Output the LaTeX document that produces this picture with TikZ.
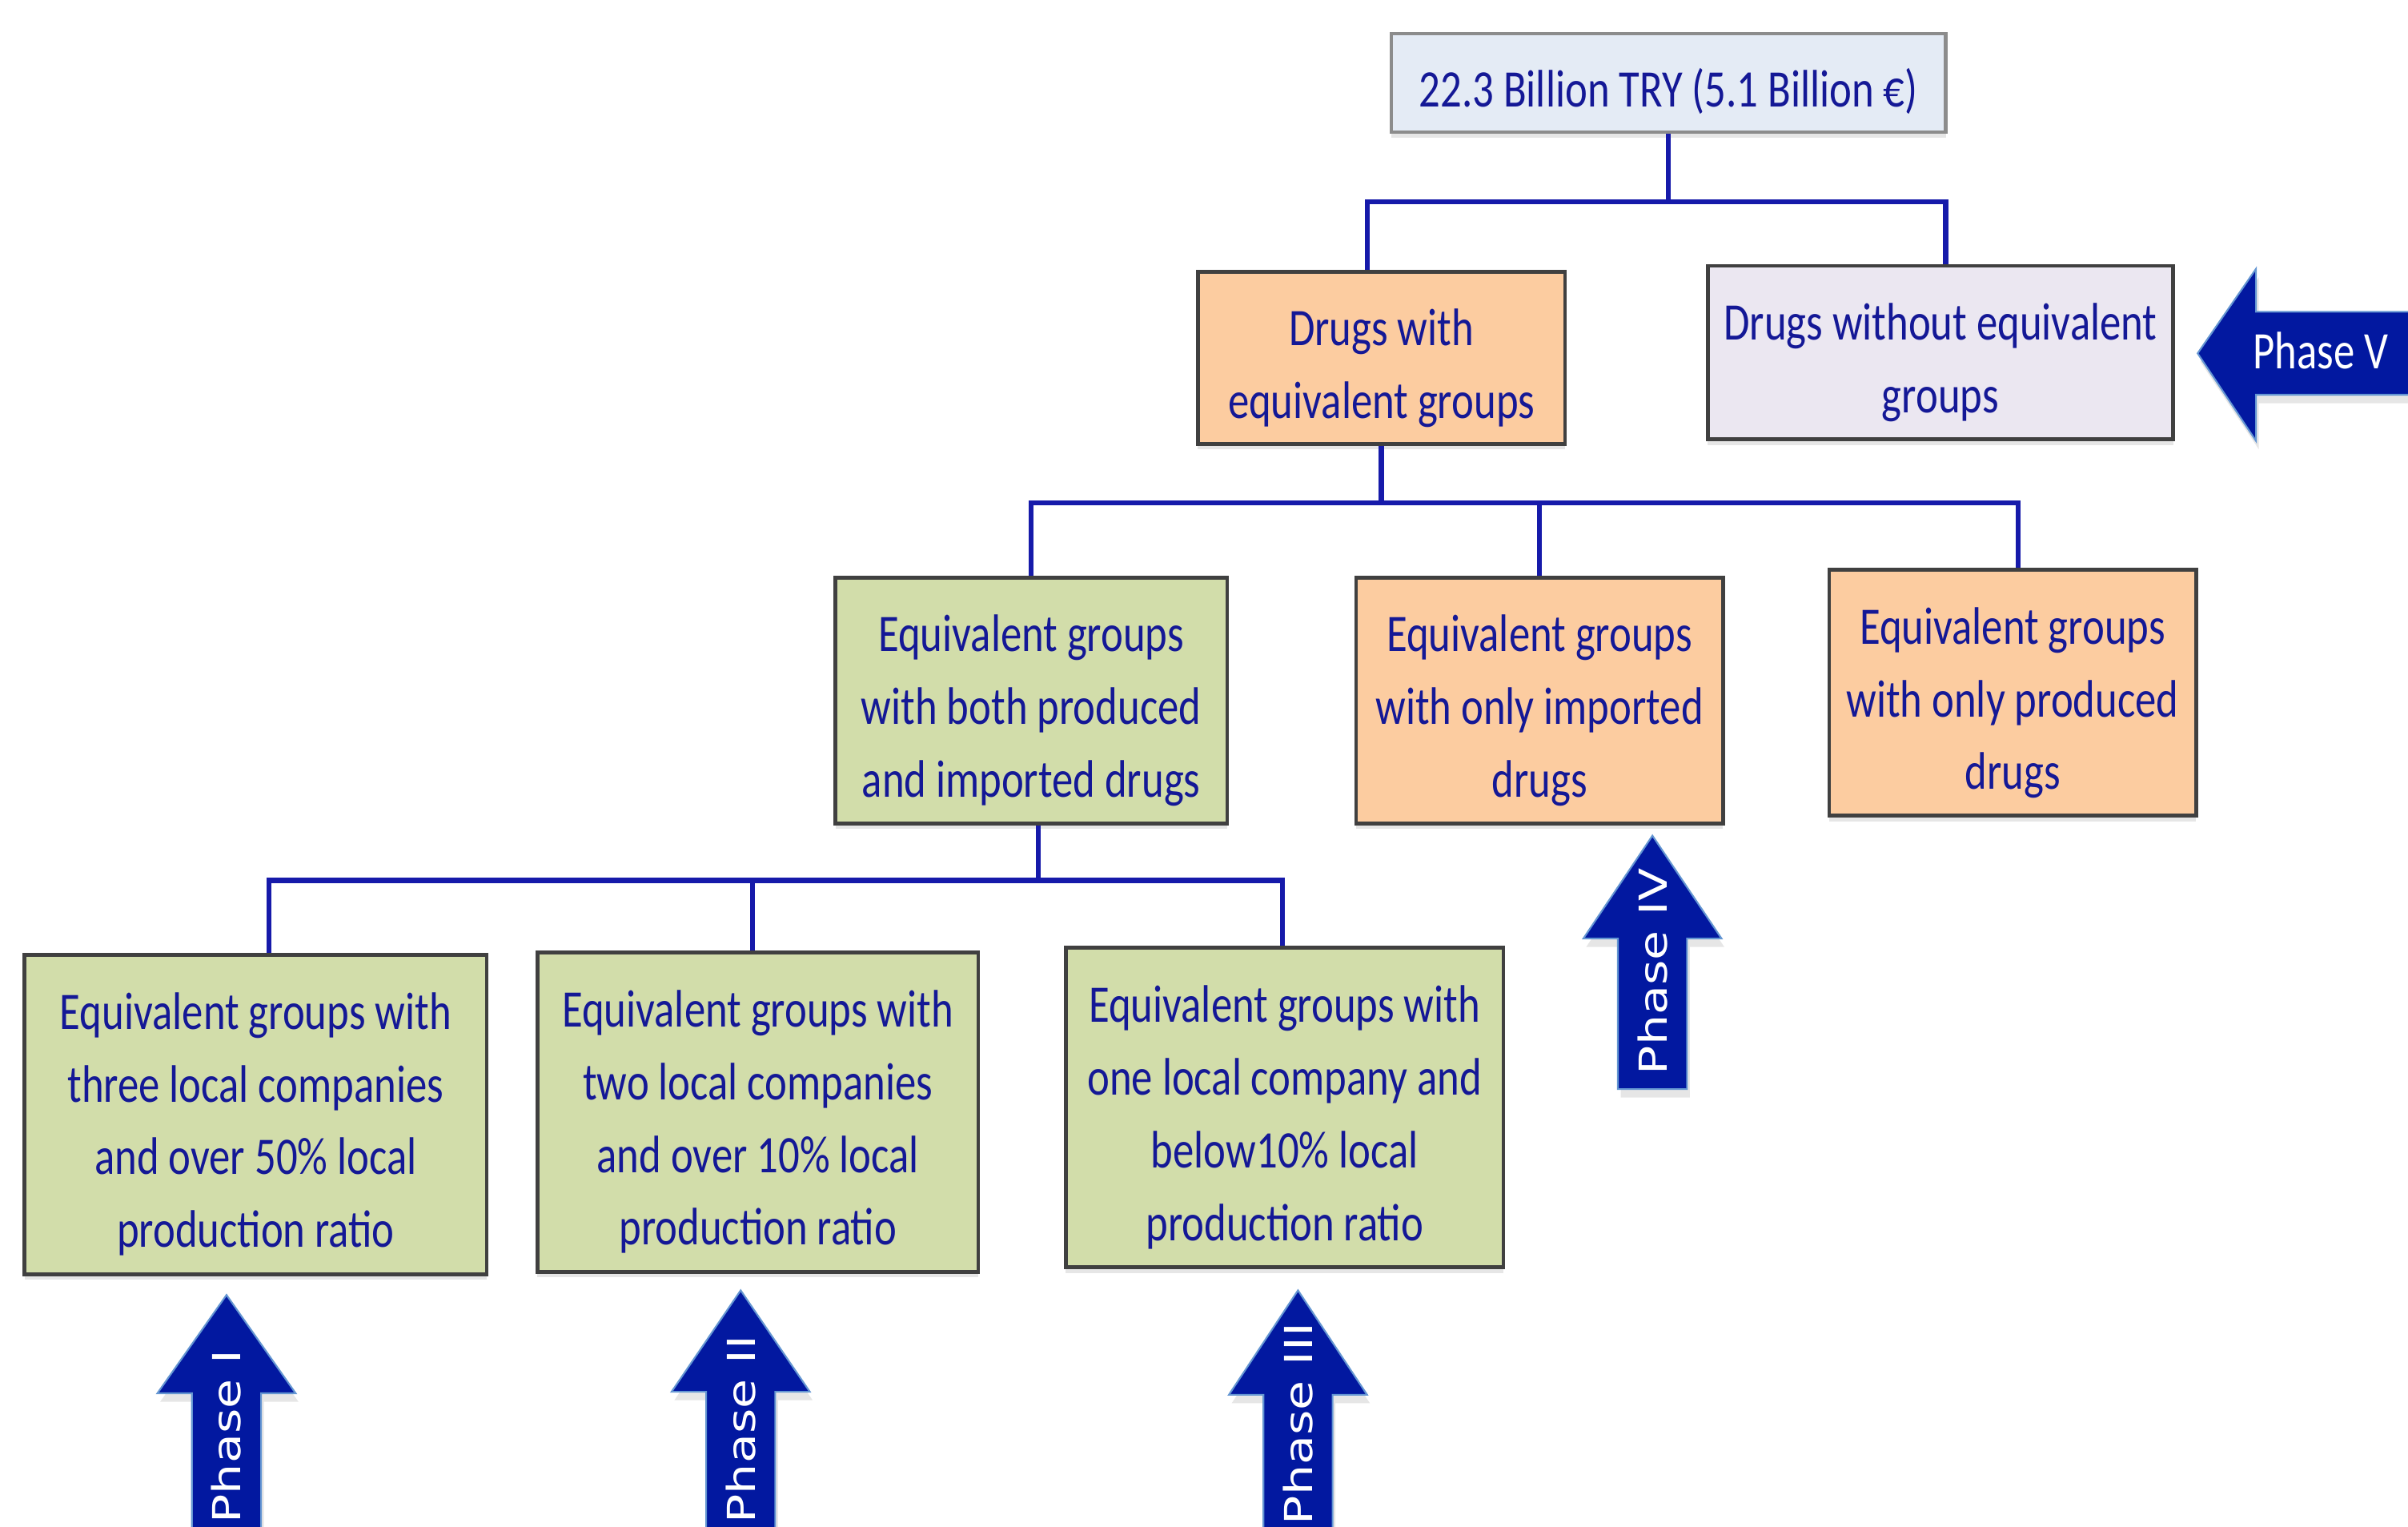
\documentclass[tikz,border=0pt]{standalone}
\usepackage{fontspec}
\setmainfont{Carlito}[FakeStretch=0.8]
\newfontfamily\phasefont{DejaVu Sans}[FakeStretch=1.25]
\usetikzlibrary{shadows}

\definecolor{navy}{RGB}{20,24,150}
\definecolor{linkblue}{RGB}{22,26,170}
\definecolor{arrowblue}{RGB}{2,24,160}
\definecolor{arrowedge}{RGB}{100,150,210}
\definecolor{rootfill}{RGB}{228,235,245}
\definecolor{peach}{RGB}{252,204,160}
\definecolor{lavender}{RGB}{235,231,241}
\definecolor{leafgreen}{RGB}{210,221,170}
\newcommand{\spx}{0.01918cm}
\newcommand{\boxlines}[1]{\begin{tabular}{@{}c@{}}\rule{0pt}{24.7pt}#1\end{tabular}}

\begin{document}
\begin{tikzpicture}[x=\spx, y=-\spx]

    \tikzset{%
    every box/.style={
        draw=black!75,
        line width=1.3pt,
        text=navy,
        inner sep=0pt,
        font=\fontsize{18.75}{25.8}\selectfont,
        drop shadow={shadow xshift=0pt, shadow yshift=-2pt, opacity=0.2}
        },
    boxsize/.style 2 args={minimum width=#1*\spx, minimum height=#2*\spx},
    box root/.style={fill=rootfill, draw=black!45},
    box peach/.style={fill=peach},
    box lavender/.style={fill=lavender},
    box green/.style={fill=leafgreen},
    link/.style={draw=linkblue, line width=1.8pt},
    phase arrow/.style={
        fill=arrowblue,
        draw=arrowedge,
        line width=0.6pt,
        drop shadow={shadow xshift=1pt, shadow yshift=-3pt, opacity=0.2}
        },
    phase text/.style={text=white, inner sep=0pt, font=\phasefont\fontsize{13.7}{16}\selectfont},
    }

    \useasboundingbox (0,0) rectangle (1568,994);
    \clip (0,0) rectangle (1568,994);

    % Top of the tree
    \node [every box, box root, boxsize={361}{64}] (total) at (1086.5,54) {\boxlines{22.3 Billion TRY (5.1 Billion €)}};

    % First split
    \node [every box, box peach, boxsize={239}{112}] (group-with) at (899.5,233) {\boxlines{Drugs with\\equivalent groups}};
    \node [every box, box lavender, boxsize={303}{113}] (group-without) at (1263.5,229.5) {\boxlines{Drugs without equivalent\\groups}};

    % Second split
    \node [every box, box green, boxsize={255}{160}] (level2-1) at (671.5,456) {\boxlines{Equivalent groups\\with both produced\\and imported drugs}};
    \node [every box, box peach, boxsize={239}{160}] (level2-2) at (1002.5,456) {\boxlines{Equivalent groups\\with only imported\\drugs}};
    \node [every box, box peach, boxsize={239}{160}] (level2-3) at (1310.5,451) {\boxlines{Equivalent groups\\with only produced\\drugs}};

    % Third split
    \foreach \n/\cx/\cy/\w/\txt in {1/166.5/725.5/301/{Equivalent groups with\\three local companies\\and over 50\% local\\production ratio},
        2/493.5/724/287/{Equivalent groups with\\two local companies\\and over 10\% local\\production ratio},
        3/836.5/721/285/{Equivalent groups with\\one local company and\\below10\% local\\production ratio}}
    \node [every box, box green, boxsize={\w}{208}] (level3-\n) at (\cx,\cy) {\boxlines{\txt}};

    % Tree lines
    \foreach \c/\dx in {group-with/-9, group-without/3.5}
    \draw [link] (total.south) -- ++(0,44) -| ([xshift=\dx*\spx]\c.north);

    \foreach \c/\dx in {1/0, 2/0, 3/3.5}
    \draw [link] (group-with.south) -- ++(0,37) -| ([xshift=\dx*\spx]level2-\c.north);

    \foreach \c/\dx in {1/8.5, 2/-3.5, 3/-1.5}
    \draw [link] ([xshift=4.5*\spx]level2-1.south) -- ++(0,36) -| ([xshift=\dx*\spx]level3-\c.north);

    % Phase V arrow
    \draw [phase arrow] (1431,230) -- (1469,175) -- (1469,203) -- (1580,203) -- (1580,257) -- (1469,257) -- (1469,287) -- cycle;
    \node [text=white, inner sep=0pt, font=\fontsize{18.75}{25}\selectfont] (phase-V) at (1511,228) {Phase V};

    % Phase I to IV arrows
    \foreach \n/\cx/\tip/\base/\bot in {I/147.5/843/907/1010, II/482.3/840/906/1010, III/845.2/840/908/1010, IV/1076/544/611/709}
    \draw [phase arrow] (\cx,\tip) -- (\cx+45,\base) -- (\cx+22.5,\base) -- (\cx+22.5,\bot)
        -- (\cx-22.5,\bot) -- (\cx-22.5,\base) -- (\cx-45,\base) -- cycle;

    \foreach \n/\cx/\y in {I/147.5/992, II/482.3/992, III/845.2/993, IV/1076/700}
    \node [phase text, rotate=90, anchor=west] (phase-\n) at (\cx,\y) {Phase \n};

\end{tikzpicture}
\end{document}
